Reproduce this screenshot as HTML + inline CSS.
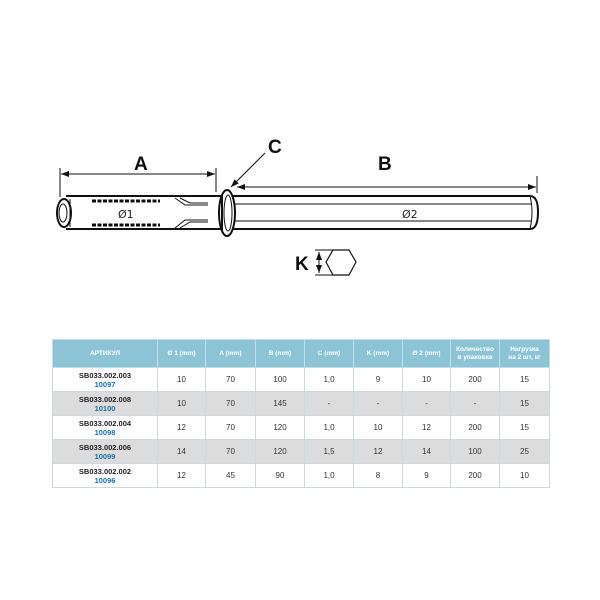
<!DOCTYPE html>
<html><head><meta charset="utf-8"><style>
body{margin:0;background:#fff;width:600px;height:600px;overflow:hidden;font-family:"Liberation Sans","DejaVu Sans",sans-serif}
svg{position:absolute;left:0;top:0}
table{position:absolute;left:52px;top:339px;border-collapse:collapse;width:497px;font-size:8px;color:#333;table-layout:fixed}
td,th{border:1px solid #cfd8dc;text-align:center;padding:0;}
th{background:#8cc4d6;color:#fff;height:27px;font-weight:bold;font-size:6.5px;line-height:8px;border-color:#bfe0ea}
td{height:23px;line-height:9px}
tr.g td{background:#dcdcdc}
.a{font-weight:bold;color:#222;font-size:7.5px}
.b{color:#1c6ea4;font-weight:bold;font-size:7.5px}
</style></head><body>
<svg width="600" height="600" viewBox="0 0 600 600">
<defs><marker id="ar" markerWidth="8" markerHeight="6" refX="8" refY="3" orient="auto" markerUnits="userSpaceOnUse"><path d="M0,0 L8,3 L0,6 Z" fill="#111"/></marker>
<marker id="al" markerWidth="8" markerHeight="6" refX="0" refY="3" orient="auto" markerUnits="userSpaceOnUse"><path d="M8,0 L0,3 L8,6 Z" fill="#111"/></marker></defs>
<g stroke="#111" fill="none" stroke-width="1">
<line x1="60" y1="168" x2="60" y2="197"/><line x1="216" y1="168" x2="216" y2="192"/>
<line x1="61" y1="174" x2="215" y2="174" marker-start="url(#al)" marker-end="url(#ar)"/>
<line x1="537" y1="176" x2="537" y2="193"/>
<line x1="237" y1="187" x2="536" y2="187" marker-start="url(#al)" marker-end="url(#ar)"/>
<line x1="265" y1="153" x2="231" y2="187" marker-end="url(#ar)"/>
<path d="M232,196 L530,196 Q538,196 538,212 Q538,229 530,229 L232,229" stroke-width="2"/>
<line x1="234" y1="204" x2="532" y2="204"/><line x1="234" y1="221" x2="532" y2="221"/>
<path d="M530,196 Q534,212 530,229"/>
<path d="M66,196 L222,196 L222,229 L66,229" stroke-width="2"/>
<ellipse cx="64" cy="213" rx="7" ry="14" stroke-width="2"/>
<ellipse cx="63" cy="213" rx="4" ry="9"/>
<line x1="70" y1="199" x2="70" y2="227"/>
<g stroke-width="3" stroke-dasharray="4,1.5"><line x1="92" y1="201" x2="160" y2="201"/><line x1="92" y1="225" x2="160" y2="225"/></g>
<path d="M175,198 L185,205 L208,205 M175,228 L185,220 L208,220"/>
<path d="M180,198 L190,203 L208,203 M180,228 L190,222 L208,222"/>
<ellipse cx="227" cy="213" rx="8" ry="23" stroke-width="2"/>
<ellipse cx="228" cy="213" rx="4" ry="18"/>
<polygon points="326,262 333,250 349,250 356,262 349,275 333,275" stroke-width="1.2"/>
<line x1="315" y1="250" x2="333" y2="250"/><line x1="315" y1="275" x2="333" y2="275"/>
<line x1="319" y1="252" x2="319" y2="273" marker-start="url(#al)" marker-end="url(#ar)"/>
</g>
<g font-family="Liberation Sans, sans-serif" font-weight="bold" font-size="19" fill="#111">
<text x="134" y="170">A</text><text x="378" y="170">B</text><text x="268" y="153">C</text><text x="295" y="270">K</text>
</g>
<g font-family="DejaVu Sans, sans-serif" font-size="11" fill="#222">
<text x="118" y="218">Ø1</text><text x="402" y="218">Ø2</text>
</g>
</svg>
<table>
<colgroup><col style="width:105px"><col style="width:48px"><col style="width:50px"><col style="width:49px"><col style="width:49px"><col style="width:49px"><col style="width:48px"><col style="width:49px"><col style="width:50px"></colgroup>
<tr><th>АРТИКУЛ</th><th>Ø 1 (mm)</th><th>A (mm)</th><th>B (mm)</th><th>C (mm)</th><th>K (mm)</th><th>Ø 2 (mm)</th><th>Количество<br>в упаковке</th><th>Нагрузка<br>на 2 шт, кг</th></tr>
<tr><td><span class="a">SB033.002.003</span><br><span class="b">10097</span></td><td>10</td><td>70</td><td>100</td><td>1,0</td><td>9</td><td>10</td><td>200</td><td>15</td></tr>
<tr class="g"><td><span class="a">SB033.002.008</span><br><span class="b">10100</span></td><td>10</td><td>70</td><td>145</td><td>-</td><td>-</td><td>-</td><td>-</td><td>15</td></tr>
<tr><td><span class="a">SB033.002.004</span><br><span class="b">10098</span></td><td>12</td><td>70</td><td>120</td><td>1,0</td><td>10</td><td>12</td><td>200</td><td>15</td></tr>
<tr class="g"><td><span class="a">SB033.002.006</span><br><span class="b">10099</span></td><td>14</td><td>70</td><td>120</td><td>1,5</td><td>12</td><td>14</td><td>100</td><td>25</td></tr>
<tr><td><span class="a">SB033.002.002</span><br><span class="b">10096</span></td><td>12</td><td>45</td><td>90</td><td>1,0</td><td>8</td><td>9</td><td>200</td><td>10</td></tr>
</table>
</body></html>
